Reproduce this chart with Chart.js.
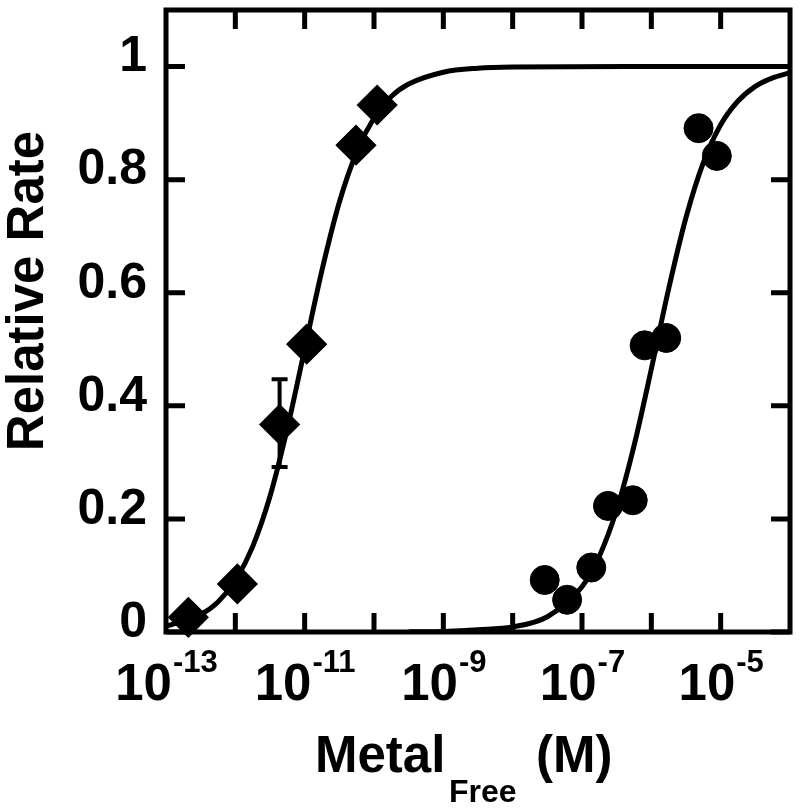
<!DOCTYPE html>
<html>
<head>
<meta charset="utf-8">
<script src="https://cdn.jsdelivr.net/npm/chart.js@4.4.1/dist/chart.umd.min.js"></script>
<style>
body{margin:0;background:#fff}
</style>
</head>
<body>
<canvas id="grafico" width="800" height="809"></canvas>
<script>
// pontos medidos - losangos (primeiro metal)
const losangoX = [2.1e-13, 1.07e-12, 4.35e-12, 1.07e-11, 5.5e-11, 1.11e-10];
const losangoY = [0.026, 0.085, 0.367, 0.509, 0.861, 0.932];

// barra de erro (so um ponto tem)
const erroX = [4.35e-12];
const erroBaixo = [0.292];
const erroAlto = [0.447];

// pontos medidos - circulos (segundo metal)
const circuloX = [2.9e-8, 6.1e-8, 1.36e-7, 2.37e-7, 5.4e-7, 8.0e-7, 1.64e-6, 4.8e-6, 8.8e-6];
const circuloY = [0.092, 0.057, 0.114, 0.223, 0.233, 0.507, 0.520, 0.891, 0.842];

// curvas ajustadas (expoente de 10 / valor)
const curva1Log = [-13, -12.5, -12.25, -12, -11.75, -11.5, -11.25, -11, -10.75, -10.5, -10.25, -10, -9.75, -9.5, -9, -8.5, -8, -6, -4];
const curva1Y = [0.010, 0.031, 0.053, 0.091, 0.151, 0.240, 0.360, 0.500, 0.640, 0.760, 0.849, 0.909, 0.947, 0.969, 0.990, 0.997, 0.999, 1.0, 1.0];
const curva2Log = [-9.5, -9, -8.5, -8, -7.5, -7, -6.75, -6.5, -6.25, -6, -5.75, -5.5, -5.25, -5, -4.75, -4.5, -4.25, -4];
const curva2Y = [0.0003, 0.001, 0.004, 0.009, 0.027, 0.080, 0.134, 0.216, 0.329, 0.465, 0.607, 0.733, 0.830, 0.897, 0.939, 0.965, 0.980, 0.989];

// ticks
const decadas = [-12, -11, -10, -9, -8, -7, -6, -5];
const rotulosX = [-13, -11, -9, -7, -5];

const fonte = "'Liberation Sans', Arial, sans-serif";

function pares(xs, ys) {
    return xs.map((v, i) => ({x: v, y: ys[i]}));
}
function paresLog(ls, ys) {
    return ls.map((v, i) => ({x: Math.pow(10, v), y: ys[i]}));
}

const moldura = {
    id: "moldura",
    beforeDatasetsDraw(chart) {
        const ctx = chart.ctx, x = chart.scales.x, y = chart.scales.y;
        ctx.save();
        ctx.strokeStyle = "#000";
        ctx.lineWidth = 4;
        erroX.forEach((v, i) => {
            const px = x.getPixelForValue(v);
            const topo = y.getPixelForValue(erroAlto[i]);
            const base = y.getPixelForValue(erroBaixo[i]);
            ctx.beginPath();
            ctx.moveTo(px, topo); ctx.lineTo(px, base);
            ctx.moveTo(px - 8, topo); ctx.lineTo(px + 8, topo);
            ctx.moveTo(px - 8, base); ctx.lineTo(px + 8, base);
            ctx.stroke();
        });
        ctx.restore();
    },
    afterDraw(chart) {
        const ctx = chart.ctx, a = chart.chartArea, x = chart.scales.x, y = chart.scales.y;
        ctx.save();
        ctx.strokeStyle = "#000";
        ctx.lineWidth = 5;
        ctx.strokeRect(a.left, a.top, a.right - a.left, a.bottom - a.top);
        ctx.beginPath();
        decadas.forEach(d => {
            const px = x.getPixelForValue(Math.pow(10, d));
            ctx.moveTo(px, a.bottom); ctx.lineTo(px, a.bottom - 19);
            ctx.moveTo(px, a.top); ctx.lineTo(px, a.top + 19);
        });
        y.ticks.forEach(t => {
            const py = y.getPixelForValue(t.value);
            ctx.moveTo(a.left, py); ctx.lineTo(a.left + 19, py);
            ctx.moveTo(a.right, py); ctx.lineTo(a.right - 19, py);
        });
        ctx.stroke();

        // rotulos do eixo x com expoente
        ctx.fillStyle = "#000";
        ctx.textBaseline = "alphabetic";
        ctx.textAlign = "left";
        rotulosX.forEach(e => {
            const px = x.getPixelForValue(Math.pow(10, e));
            const exp = "-" + Math.abs(e);
            ctx.font = "bold 51px " + fonte;
            const w1 = ctx.measureText("10").width;
            ctx.font = "bold 31px " + fonte;
            const w2 = ctx.measureText(exp).width;
            const x0 = px - (w1 + w2) / 2;
            ctx.font = "bold 51px " + fonte;
            ctx.fillText("10", x0, 700);
            ctx.font = "bold 31px " + fonte;
            ctx.fillText(exp, x0 + w1 + 1, 672);
        });

        // titulo x
        ctx.font = "bold 51px " + fonte;
        ctx.fillText("Metal", 315, 772);
        ctx.font = "bold 32px " + fonte;
        ctx.fillText("Free", 449, 802);
        ctx.font = "bold 51px " + fonte;
        ctx.fillText("(M)", 536, 772);

        // titulo y
        ctx.translate(43, 291);
        ctx.rotate(-Math.PI / 2);
        ctx.textAlign = "center";
        ctx.font = "bold 51px " + fonte;
        ctx.fillText("Relative Rate", 0, 0);
        ctx.restore();
    }
};

let grafico = new Chart(document.getElementById("grafico"), {
    type: "scatter",
    data: {
        datasets: [
            {
                label: "losangos",
                data: pares(losangoX, losangoY),
                pointStyle: "rectRot",
                pointRadius: 18.5,
                borderWidth: 3,
                backgroundColor: "#000",
                borderColor: "#000",
                clip: false
            },
            {
                label: "circulos",
                data: pares(circuloX, circuloY),
                pointStyle: "circle",
                pointRadius: 14.5,
                borderWidth: 1,
                backgroundColor: "#000",
                borderColor: "#000",
                clip: false
            },
            {
                label: "ajuste 1",
                data: paresLog(curva1Log, curva1Y),
                showLine: true,
                pointRadius: 0,
                borderColor: "#000",
                borderWidth: 5,
                cubicInterpolationMode: "monotone"
            },
            {
                label: "ajuste 2",
                data: paresLog(curva2Log, curva2Y),
                showLine: true,
                pointRadius: 0,
                borderColor: "#000",
                borderWidth: 5,
                cubicInterpolationMode: "monotone"
            }
        ]
    },
    options: {
        responsive: false,
        animation: false,
        events: [],
        layout: {autoPadding: false, padding: {top: 10, right: 10, left: 0, bottom: 0}},
        plugins: {
            legend: {display: false},
            tooltip: {enabled: false}
        },
        scales: {
            x: {
                type: "logarithmic",
                min: 1e-13,
                max: 1e-4,
                grid: {display: false, drawTicks: false},
                border: {display: false},
                ticks: {display: false},
                afterFit(s) {
                    s.height = 177;
                    s.paddingLeft = 0;
                    s.paddingRight = 0;
                }
            },
            y: {
                min: 0,
                max: 1.1,
                grid: {display: false, drawTicks: false},
                border: {display: false},
                ticks: {
                    stepSize: 0.2,
                    includeBounds: false,
                    padding: 19,
                    labelOffset: -9,
                    color: "#000",
                    font: {family: fonte, size: 50, weight: "bold"},
                    callback: v => String(Math.round(v * 10) / 10)
                },
                afterFit(s) {
                    s.width = 166;
                    s.paddingTop = 0;
                    s.paddingBottom = 0;
                }
            }
        }
    },
    plugins: [moldura]
});
</script>
</body>
</html>
